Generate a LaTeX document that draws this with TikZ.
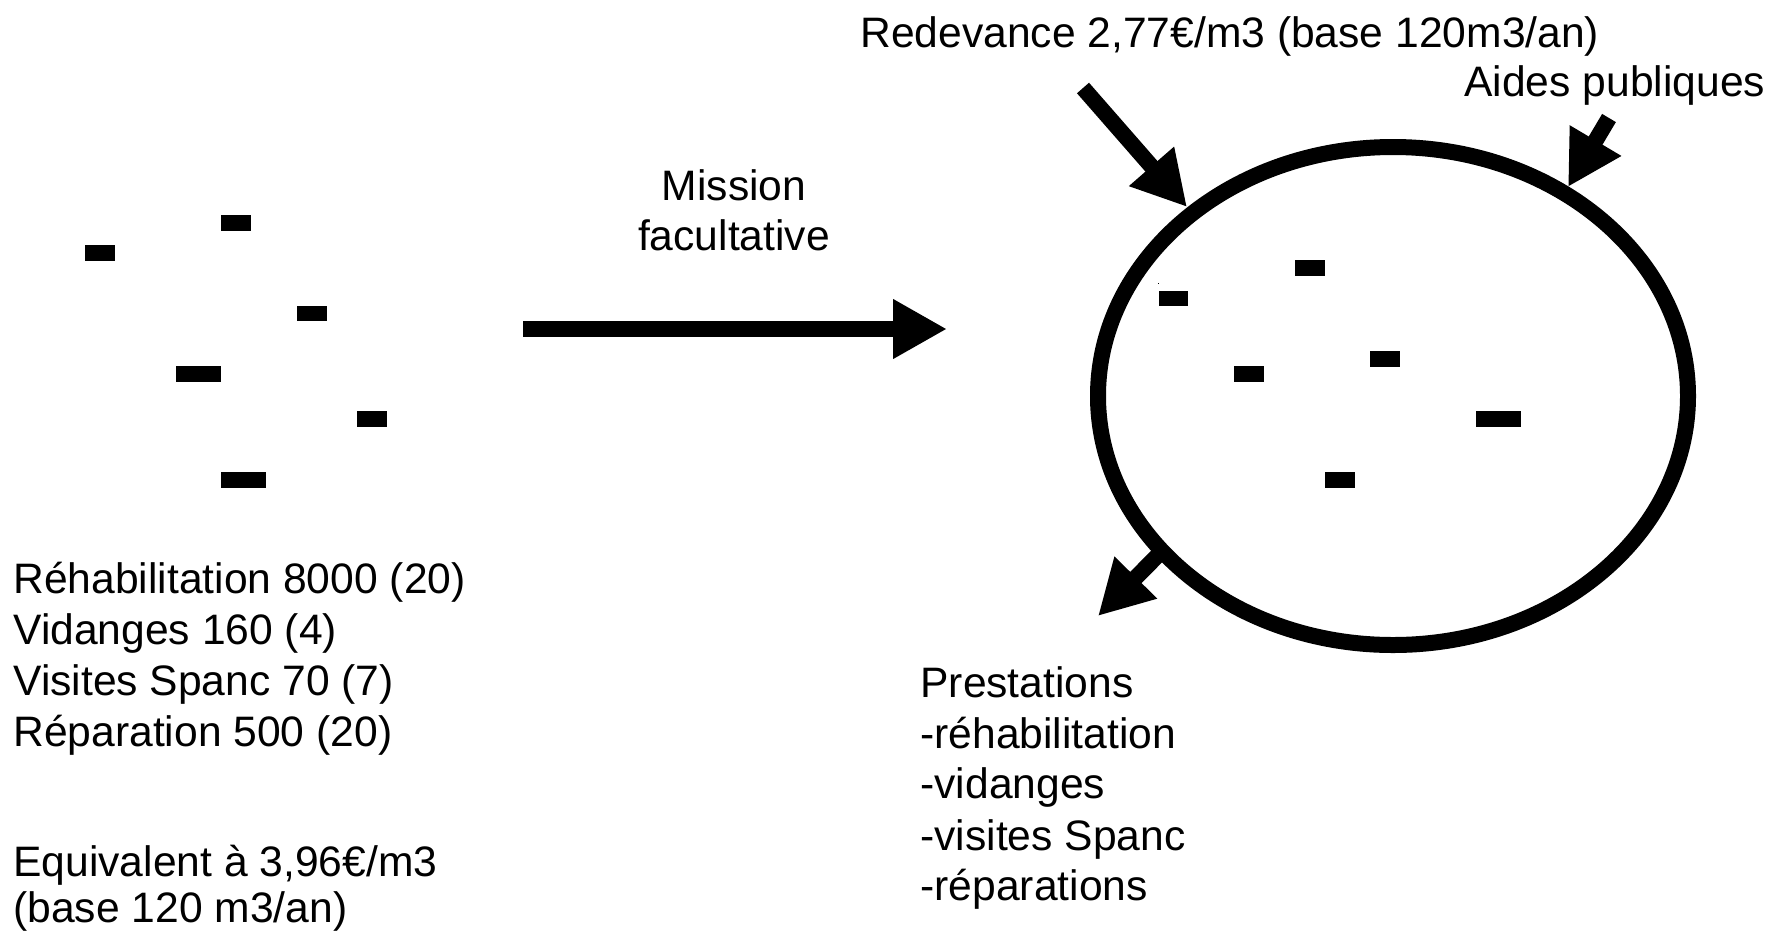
\documentclass[tikz,border=0pt]{standalone}
\usepackage{fontspec}
\setmainfont{Liberation Sans}
\usetikzlibrary{arrows.meta}
\begin{document}
\begin{tikzpicture}[x=0.5pt,y=-0.5pt,
  txt/.style={anchor=base west, inner sep=0pt, font=\fontsize{21.3}{25}\selectfont},
  blk/.style={fill=black},
  bigarrow/.style={line width=8pt, -{Triangle[length=27pt,width=28pt]}},
  ring/.style={draw=black, line width=8pt}
]
\useasboundingbox (0,0) rectangle (1773,933);

% left group of blocks
\path[blk] (221,215) rectangle (251,231);
\path[blk] (85,245) rectangle (115,261);
\path[blk] (297,306) rectangle (327,321);
\path[blk] (176,366) rectangle (221,382);
\path[blk] (357,411) rectangle (387,427);
\path[blk] (221,472) rectangle (266,488);

% ellipse
\path[ring] (1393,396) ellipse [x radius=147.5pt, y radius=124.5pt];

% blocks inside ellipse
\path[blk] (1159,291) rectangle (1188,306);
\path[blk] (1295,260) rectangle (1325,276);
\path[blk] (1234,366) rectangle (1264,382);
\path[blk] (1370,351) rectangle (1400,367);
\path[blk] (1476,411) rectangle (1521,427);
\path[blk] (1325,472) rectangle (1355,488);
\path[blk] (1157.5,282.5) rectangle (1159,284);

% arrow end points
\coordinate (a1s) at (1083,88);   \coordinate (a1e) at (1187,207);
\coordinate (a2s) at (1609,118);  \coordinate (a2e) at (1568,187);
\coordinate (a3s) at (1162,551);  \coordinate (a3e) at (1098,616);
\coordinate (a4s) at (523,329);   \coordinate (a4e) at (947,329);

\draw[bigarrow] (a1s) -- (a1e);
\draw[bigarrow] (a2s) -- (a2e);
\draw[bigarrow] (a3s) -- (a3e);
\draw[bigarrow] (a4s) -- (a4e);

% texts
\node[txt] (l1) at (13,593) {Réhabilitation 8000 (20)};
\node[txt] (l2) at (13,644) {Vidanges 160 (4)};
\node[txt] (l3) at (13,695) {Visites Spanc 70 (7)};
\node[txt] (l4) at (13,746) {Réparation 500 (20)};
\node[txt] (l5) at (13,876) {Equivalent à 3,96€/m3};
\node[txt] (l6) at (13,922) {(base 120 m3/an)};

\node[txt, anchor=base] (m1) at (734,200) {Mission};
\node[txt, anchor=base] (m2) at (734,250) {facultative};

\node[txt] (red) at (860,47) {Redevance 2,77€/m3 (base 120m3/an)};
\node[txt] (aid) at (1464,96) {Aides publiques};

\node[txt] (p1) at (920,697) {Prestations};
\node[txt] (p2) at (920,748) {-réhabilitation};
\node[txt] (p3) at (920,798) {-vidanges};
\node[txt] (p4) at (920,850) {-visites Spanc};
\node[txt] (p5) at (920,900) {-réparations};
\end{tikzpicture}
\end{document}
